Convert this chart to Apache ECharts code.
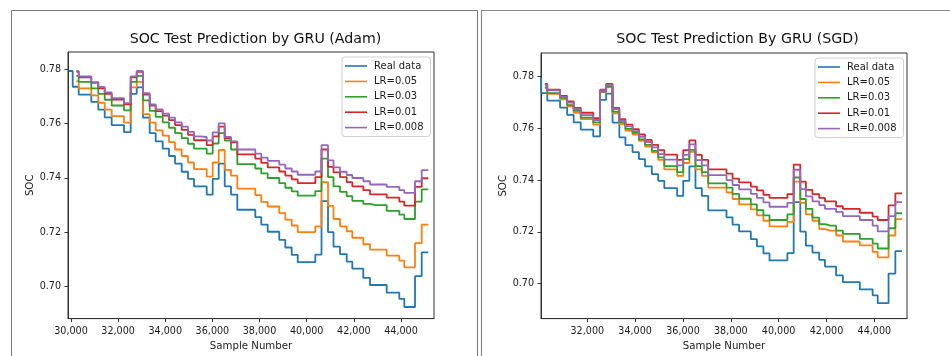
<!DOCTYPE html>
<html>
<head>
<meta charset="utf-8">
<script src="https://cdn.jsdelivr.net/npm/echarts@6/dist/echarts.min.js"></script>
<style>
  html, body { margin: 0; padding: 0; background: #fff; }
  #chart { width: 950px; height: 356px; }
</style>
</head>
<body>
<div id="chart"></div>
<script>
// Sample number at which each SOC plateau begins (shared by all series)
const sampleStarts = [
  29902, 30072, 30225, 30327, 30594, 30861, 31158, 31430, 31727, 31990,
  32249, 32533, 32788, 33055, 33339, 33594, 33891, 34158, 34413, 34697,
  34964, 35219, 35486, 35758, 36012, 36267, 36522, 36789, 37056, 37311,
  37565, 37820, 38074, 38346, 38592, 38838, 39093, 39364, 39619, 39869,
  40120, 40366, 40629, 40905, 41138, 41414, 41698, 41936, 42169, 42402,
  42686, 42924, 43162, 43395, 43662, 43930, 44142, 44371, 44596, 44880
];
const sampleEnd = 45160;

// Measured SOC
const realData = [
  0.7794, 0.7736, 0.7736, 0.7707, 0.7707, 0.7680, 0.7652, 0.7623, 0.7595, 0.7595,
  0.7569, 0.7710, 0.7734, 0.7622, 0.7565, 0.7535, 0.7508, 0.7481, 0.7453, 0.7423,
  0.7397, 0.7369, 0.7369, 0.7339, 0.7397, 0.7453, 0.7369, 0.7339, 0.7283, 0.7283,
  0.7283, 0.7256, 0.7228, 0.7202, 0.7202, 0.7172, 0.7144, 0.7117, 0.7090, 0.7090,
  0.7090, 0.7118, 0.7315, 0.7201, 0.7147, 0.7120, 0.7092, 0.7066, 0.7066, 0.7032,
  0.7006, 0.7006, 0.7006, 0.6978, 0.6978, 0.6955, 0.6925, 0.6925, 0.7039, 0.7126
];

// GRU predictions, Adam optimizer
const adamLR005 = [
  null, null, 0.7756, 0.7730, 0.7730, 0.7704, 0.7677, 0.7652, 0.7628, 0.7628,
  0.7604, 0.7734, 0.7754, 0.7635, 0.7604, 0.7575, 0.7556, 0.7532, 0.7505, 0.7481,
  0.7457, 0.7433, 0.7433, 0.7405, 0.7457, 0.7503, 0.7430, 0.7409, 0.7361, 0.7361,
  0.7361, 0.7337, 0.7312, 0.7295, 0.7295, 0.7271, 0.7247, 0.7225, 0.7201, 0.7201,
  0.7201, 0.7222, 0.7385, 0.7297, 0.7249, 0.7222, 0.7204, 0.7180, 0.7180, 0.7156,
  0.7136, 0.7136, 0.7136, 0.7114, 0.7114, 0.7096, 0.7071, 0.7071, 0.7160, 0.7228
];
const adamLR003 = [
  null, null, 0.7776, 0.7754, 0.7754, 0.7730, 0.7710, 0.7688, 0.7667, 0.7667,
  0.7649, 0.7754, 0.7776, 0.7686, 0.7647, 0.7625, 0.7605, 0.7585, 0.7565, 0.7547,
  0.7526, 0.7508, 0.7508, 0.7490, 0.7527, 0.7565, 0.7538, 0.7505, 0.7451, 0.7451,
  0.7451, 0.7435, 0.7417, 0.7400, 0.7400, 0.7381, 0.7364, 0.7351, 0.7335, 0.7335,
  0.7335, 0.7352, 0.7471, 0.7403, 0.7369, 0.7349, 0.7333, 0.7316, 0.7316, 0.7305,
  0.7300, 0.7300, 0.7300, 0.7279, 0.7279, 0.7265, 0.7249, 0.7249, 0.7313, 0.7358
];
const adamLR001 = [
  null, null, 0.7792, 0.7771, 0.7771, 0.7750, 0.7730, 0.7710, 0.7689, 0.7689,
  0.7671, 0.7771, 0.7791, 0.7707, 0.7667, 0.7646, 0.7630, 0.7613, 0.7595, 0.7577,
  0.7559, 0.7539, 0.7539, 0.7521, 0.7553, 0.7589, 0.7547, 0.7531, 0.7487, 0.7487,
  0.7487, 0.7471, 0.7456, 0.7439, 0.7439, 0.7424, 0.7409, 0.7395, 0.7381, 0.7381,
  0.7381, 0.7403, 0.7505, 0.7441, 0.7421, 0.7403, 0.7385, 0.7369, 0.7369, 0.7355,
  0.7340, 0.7340, 0.7340, 0.7328, 0.7328, 0.7313, 0.7298, 0.7298, 0.7367, 0.7399
];
const adamLR0008 = [
  null, null, 0.7794, 0.7774, 0.7774, 0.7753, 0.7735, 0.7715, 0.7694, 0.7694,
  0.7676, 0.7774, 0.7794, 0.7712, 0.7671, 0.7653, 0.7637, 0.7622, 0.7605, 0.7589,
  0.7570, 0.7553, 0.7551, 0.7538, 0.7568, 0.7601, 0.7551, 0.7535, 0.7505, 0.7505,
  0.7505, 0.7490, 0.7475, 0.7463, 0.7463, 0.7449, 0.7435, 0.7424, 0.7412, 0.7412,
  0.7412, 0.7424, 0.7521, 0.7465, 0.7439, 0.7423, 0.7411, 0.7400, 0.7400, 0.7388,
  0.7376, 0.7376, 0.7376, 0.7367, 0.7367, 0.7355, 0.7345, 0.7345, 0.7388, 0.7429
];

// GRU predictions, SGD optimizer
const sgdLR005 = [
  null, null, 0.7755, 0.7733, 0.7733, 0.7712, 0.7685, 0.7660, 0.7635, 0.7635,
  0.7614, 0.7740, 0.7758, 0.7658, 0.7616, 0.7591, 0.7576, 0.7551, 0.7529, 0.7507,
  0.7478, 0.7441, 0.7441, 0.7416, 0.7466, 0.7509, 0.7441, 0.7416, 0.7371, 0.7371,
  0.7371, 0.7352, 0.7327, 0.7306, 0.7306, 0.7287, 0.7264, 0.7243, 0.7221, 0.7221,
  0.7221, 0.7239, 0.7394, 0.7312, 0.7268, 0.7243, 0.7211, 0.7205, 0.7205, 0.7186,
  0.7163, 0.7163, 0.7163, 0.7148, 0.7148, 0.7123, 0.7102, 0.7102, 0.7186, 0.7249
];
const sgdLR003 = [
  null, null, 0.7758, 0.7736, 0.7736, 0.7717, 0.7689, 0.7667, 0.7641, 0.7641,
  0.7623, 0.7742, 0.7762, 0.7664, 0.7623, 0.7598, 0.7582, 0.7557, 0.7536, 0.7513,
  0.7488, 0.7454, 0.7454, 0.7431, 0.7481, 0.7517, 0.7454, 0.7431, 0.7387, 0.7387,
  0.7387, 0.7371, 0.7347, 0.7328, 0.7328, 0.7306, 0.7284, 0.7264, 0.7246, 0.7246,
  0.7246, 0.7268, 0.7410, 0.7327, 0.7289, 0.7255, 0.7230, 0.7224, 0.7224, 0.7205,
  0.7192, 0.7192, 0.7192, 0.7173, 0.7173, 0.7155, 0.7136, 0.7136, 0.7214, 0.7272
];
const sgdLR001 = [
  null, null, 0.7771, 0.7749, 0.7749, 0.7725, 0.7704, 0.7679, 0.7660, 0.7660,
  0.7639, 0.7749, 0.7771, 0.7679, 0.7635, 0.7614, 0.7597, 0.7576, 0.7555, 0.7536,
  0.7516, 0.7498, 0.7498, 0.7478, 0.7516, 0.7553, 0.7497, 0.7478, 0.7441, 0.7441,
  0.7441, 0.7425, 0.7406, 0.7391, 0.7391, 0.7375, 0.7360, 0.7343, 0.7331, 0.7331,
  0.7331, 0.7346, 0.7460, 0.7394, 0.7362, 0.7346, 0.7331, 0.7318, 0.7318, 0.7299,
  0.7289, 0.7289, 0.7289, 0.7274, 0.7274, 0.7259, 0.7246, 0.7246, 0.7302, 0.7349
];
const sgdLR0008 = [
  null, null, 0.7767, 0.7746, 0.7746, 0.7721, 0.7699, 0.7673, 0.7651, 0.7651,
  0.7632, 0.7746, 0.7767, 0.7674, 0.7629, 0.7607, 0.7589, 0.7567, 0.7547, 0.7526,
  0.7500, 0.7479, 0.7479, 0.7457, 0.7497, 0.7538, 0.7477, 0.7457, 0.7419, 0.7419,
  0.7419, 0.7400, 0.7381, 0.7364, 0.7364, 0.7347, 0.7331, 0.7314, 0.7297, 0.7297,
  0.7297, 0.7312, 0.7440, 0.7365, 0.7337, 0.7318, 0.7303, 0.7289, 0.7289, 0.7277,
  0.7261, 0.7261, 0.7261, 0.7246, 0.7246, 0.7224, 0.7202, 0.7202, 0.7261, 0.7315
];

const seriesNames = ['Real data', 'LR=0.05', 'LR=0.03', 'LR=0.01', 'LR=0.008'];
const seriesColors = ['#1f77b4', '#ff7f0e', '#2ca02c', '#d62728', '#9467bd'];
const xTicks = [30000, 32000, 34000, 36000, 38000, 40000, 42000, 44000];
const yTicks = [0.70, 0.72, 0.74, 0.76, 0.78];
const titles = ['SOC Test Prediction by GRU (Adam)', 'SOC Test Prediction By GRU (SGD)'];

const FONT = 'DejaVu Sans';
const INK = '#1a1a1a';

// Turn a value list into step-line points; the last plateau runs to sampleEnd
function stepPoints(values) {
  const pts = [];
  values.forEach((v, i) => { if (v !== null) pts.push([sampleStarts[i], v]); });
  pts.push([sampleEnd, values[values.length - 1]]);
  return pts;
}

const panels = [
  { grid: { left: 68, top: 52, width: 366, height: 272 },
    xRange: [29873, 45402], yRange: [0.68823, 0.78639],
    legend: { left: 342, top: 57 }, titleX: 255.5,
    data: [realData, adamLR005, adamLR003, adamLR001, adamLR0008] },
  { grid: { left: 541, top: 53, width: 366, height: 272 },
    xRange: [30064, 45367], yRange: [0.68653, 0.78906],
    legend: { left: 815, top: 58 }, titleX: 737.5,
    data: [realData, sgdLR005, sgdLR003, sgdLR001, sgdLR0008] }
];

const grids = [], xAxes = [], yAxes = [], legends = [], series = [], graphics = [];

// Outer frames of the two figure panels
graphics.push({ type: 'rect', silent: true, shape: { x: 11.5, y: 10.5, width: 466, height: 400 },
  style: { fill: 'none', stroke: '#7a7a7a', lineWidth: 1 } });
graphics.push({ type: 'rect', silent: true, shape: { x: 481.5, y: 10.5, width: 520, height: 400 },
  style: { fill: 'none', stroke: '#8a8a8a', lineWidth: 1.2 } });

panels.forEach((p, k) => {
  grids.push(Object.assign({ show: true, borderColor: '#333', borderWidth: 1,
    backgroundColor: 'transparent' }, p.grid));
  xAxes.push({
    type: 'value', gridIndex: k, min: p.xRange[0], max: p.xRange[1],
    name: 'Sample Number', nameLocation: 'middle', nameGap: 21,
    nameTextStyle: { fontFamily: FONT, fontSize: 10.2, color: INK },
    axisLine: { show: true, onZero: false, lineStyle: { color: '#333', width: 1 } },
    axisTick: { show: true, length: 3.5, customValues: xTicks, lineStyle: { color: '#333', width: 1 } },
    axisLabel: { customValues: xTicks, margin: 7.5, fontFamily: FONT, fontSize: 9.6, color: INK,
      formatter: v => Number(v).toLocaleString('en-US') },
    splitLine: { show: false }
  });
  yAxes.push({
    type: 'value', gridIndex: k, min: p.yRange[0], max: p.yRange[1],
    name: 'SOC', nameLocation: 'middle', nameGap: 33,
    nameTextStyle: { fontFamily: FONT, fontSize: 10.2, color: INK },
    axisLine: { show: true, onZero: false, lineStyle: { color: '#333', width: 1 } },
    axisTick: { show: true, length: 3.5, customValues: yTicks, lineStyle: { color: '#333', width: 1 } },
    axisLabel: { customValues: yTicks, margin: 7, fontFamily: FONT, fontSize: 9.6, color: INK,
      formatter: v => Number(v).toFixed(2) },
    splitLine: { show: false }
  });
  legends.push({
    orient: 'vertical', left: p.legend.left, top: p.legend.top,
    data: seriesNames, icon: 'rect', itemWidth: 22, itemHeight: 1.6, itemGap: 3.4,
    padding: [3, 7, 3, 3], borderColor: '#cfcfcf', borderWidth: 1, borderRadius: 3,
    backgroundColor: 'rgba(255,255,255,0.85)', selectedMode: false,
    textStyle: { fontFamily: FONT, fontSize: 10, color: INK, lineHeight: 12, padding: [0, 0, 0, 2] }
  });
  graphics.push({ type: 'text', silent: true, x: p.titleX, y: 39.5,
    style: { text: titles[k], fontFamily: FONT, fontSize: 14.2, fill: '#111',
      align: 'center', verticalAlign: 'middle' } });
  p.data.forEach((vals, s) => {
    series.push({
      type: 'line', name: seriesNames[s], xAxisIndex: k, yAxisIndex: k,
      data: stepPoints(vals), step: 'end', symbol: 'none', showSymbol: false,
      clip: true, silent: true,
      lineStyle: { width: 1.8, color: seriesColors[s] },
      itemStyle: { color: seriesColors[s] },
      emphasis: { disabled: true }
    });
  });
});

const chart = echarts.init(document.getElementById('chart'), null, { renderer: 'canvas' });
chart.setOption({
  backgroundColor: '#ffffff',
  animation: false,
  grid: grids, xAxis: xAxes, yAxis: yAxes, legend: legends,
  series: series, graphic: graphics
});
</script>
</body>
</html>
